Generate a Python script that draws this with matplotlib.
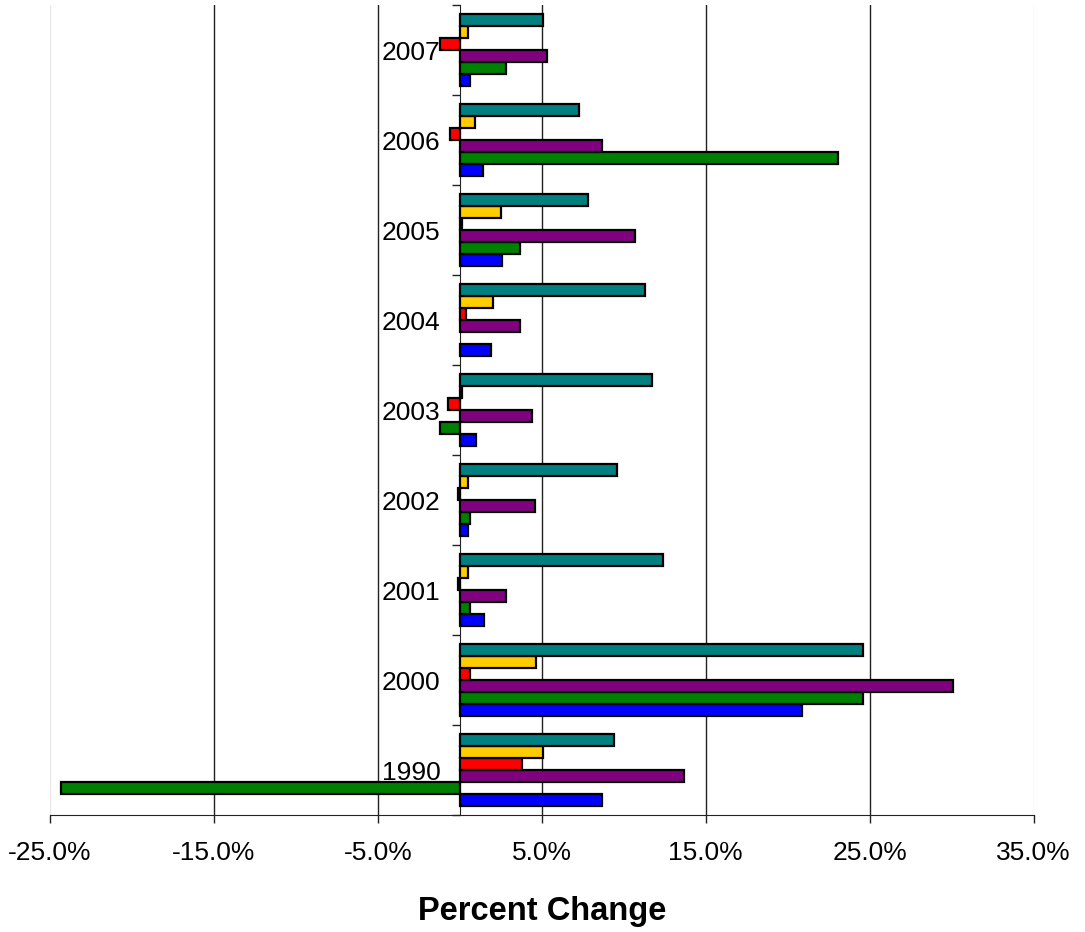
import numpy as np
import matplotlib
matplotlib.use("Agg")
import matplotlib.pyplot as plt
from matplotlib.ticker import FixedLocator

plt.rcParams['font.family'] = ['Liberation Sans', 'DejaVu Sans']

# Years, bottom to top
years = ["1990", "2000", "2001", "2002", "2003", "2004", "2005", "2006", "2007"]

# Percent change per series (one value per year, same order as `years`)
blue   = [8.65, 20.9, 1.5, 0.5, 1.0, 1.9, 2.6, 1.4, 0.6]
green  = [-24.3, 24.6, 0.6, 0.6, -1.2, np.nan, 3.7, 23.1, 2.8]
purple = [13.7, 30.1, 2.8, 4.6, 4.4, 3.7, 10.7, 8.7, 5.3]
red    = [3.8, 0.6, -0.1, -0.1, -0.7, 0.4, 0.15, -0.6, -1.2]
yellow = [5.1, 4.65, 0.5, 0.5, 0.15, 2.0, 2.5, 0.9, 0.5]
teal   = [9.4, 24.6, 12.4, 9.6, 11.7, 11.3, 7.8, 7.3, 5.1]

series = [blue, green, purple, red, yellow, teal]
colors = ["#0000FF", "#008000", "#800080", "#FF0000", "#FFCC00", "#008080"]

xticks = [-25, -15, -5, 5, 15, 25, 35]
xtick_labels = ["-25.0%", "-15.0%", "-5.0%", "5.0%", "15.0%", "25.0%", "35.0%"]

fig = plt.figure(figsize=(10.85, 9.32), dpi=100)
ax = fig.add_axes([50 / 1085, 117 / 932, (1033.5 - 50) / 1085, (815 - 5) / 932])

n = len(series)
group = 0.8
h = group / n
for k, (vals, c) in enumerate(zip(series, colors)):
    vals = np.asarray(vals, dtype=float)
    ok = ~np.isnan(vals)
    pos = np.arange(len(years)) + 0.5 - group / 2 + h / 2 + k * h
    ax.barh(pos[ok], vals[ok], height=h, color=c, edgecolor="black",
            linewidth=1.6, zorder=3)

ax.set_xlim(-25, 35)
ax.set_ylim(0, len(years))

# vertical gridlines
for x in xticks[1:-1]:
    ax.axvline(x, color="#222222", linewidth=1.0, zorder=1)
for x in (xticks[0], xticks[-1]):
    ax.axvline(x, color="#e8e8e8", linewidth=1.0, zorder=1)

# x axis
ax.xaxis.set_major_locator(FixedLocator(xticks))
ax.set_xticklabels(xtick_labels)
ax.tick_params(axis="x", direction="out", length=6, width=1.0, color="#222222",
               labelsize=19, pad=13)
ax.set_xlabel("Percent Change", fontsize=23.5, fontweight="bold", labelpad=22)

# y axis at zero: boundary ticks, labels at group centers
ax.spines["left"].set_position(("data", 0))
ax.spines["left"].set_color("#222222")
ax.spines["bottom"].set_color("#222222")
ax.spines["top"].set_visible(False)
ax.spines["right"].set_visible(False)
ax.yaxis.set_major_locator(FixedLocator(np.arange(len(years) + 1)))
ax.yaxis.set_major_formatter(plt.NullFormatter())
ax.set_yticks(np.arange(len(years)) + 0.5, minor=True)
ax.set_yticklabels(years, minor=True)
ax.tick_params(axis="y", which="major", direction="out", length=6, width=1.0,
               color="#222222")
ax.tick_params(axis="y", which="minor", length=0, labelsize=19, pad=14)

fig.savefig("out.png", dpi=100)
